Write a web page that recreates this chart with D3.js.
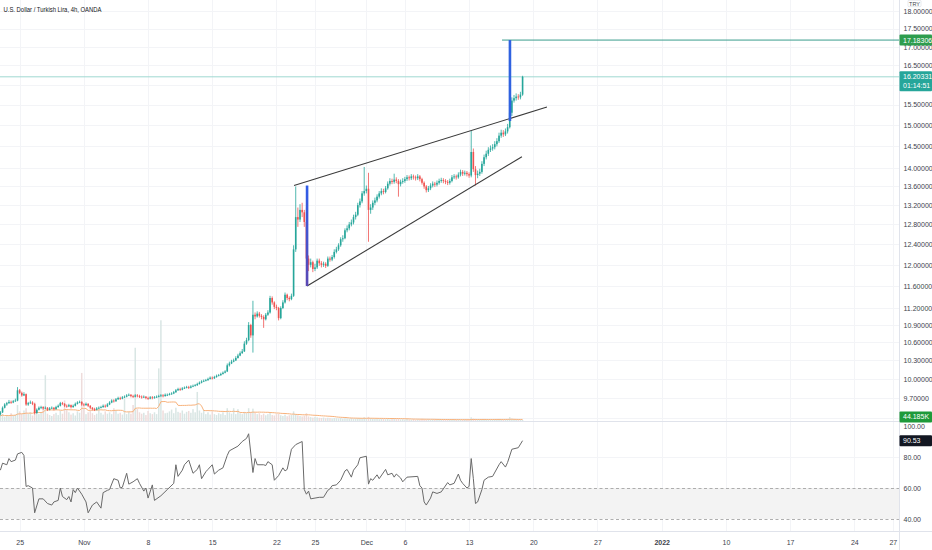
<!DOCTYPE html>
<html lang="en">
<head>
<meta charset="UTF-8">
<title>U.S. Dollar / Turkish Lira, 4h, OANDA</title>
<script src="https://d3js.org/d3.v7.min.js"></script>
<style>
  body, html { margin: 0; padding: 0; background: #fff; overflow: hidden; }
  svg { display: block; font-family: "Liberation Sans", Arial, sans-serif; }
  .axis text { fill: #40434c; font-size: 7px; }
  .axis path, .axis line { display: none; }
</style>
</head>
<body>
<svg width="932" height="550"></svg>
<script>
// ---- data (4h bars, weekends skipped; bar 9 = Oct 25 first bar) ----
const firstOpen = 9.45;
const closes = [
  9.48, 9.55, 9.60, 9.62, 9.64, 9.63,
  9.65, 9.66, 9.82, 9.78, 9.74, 9.76,
  9.60, 9.62, 9.63, 9.61, 9.47, 9.52,
  9.55, 9.56, 9.54, 9.55, 9.52, 9.54,
  9.55, 9.53, 9.56, 9.58, 9.62, 9.61,
  9.58, 9.57, 9.59, 9.56, 9.58, 9.61,
  9.63, 9.64, 9.60, 9.59, 9.61, 9.58,
  9.55, 9.53, 9.52, 9.54, 9.55, 9.56,
  9.58, 9.57, 9.60, 9.63, 9.66, 9.65,
  9.68, 9.70, 9.69, 9.71, 9.72, 9.74,
  9.75, 9.73, 9.72, 9.74, 9.73, 9.72,
  9.71, 9.72, 9.70, 9.69, 9.71, 9.70,
  9.71, 9.72, 9.73, 9.74, 9.73, 9.75,
  9.75, 9.76, 9.77, 9.79, 9.82, 9.84,
  9.83, 9.85, 9.86, 9.87, 9.86, 9.88,
  9.89, 9.90, 9.92, 9.94, 9.96, 9.97,
  9.98, 10.00, 10.02, 10.01, 10.03, 10.05,
  10.06, 10.08, 10.10, 10.12, 10.22, 10.25,
  10.28, 10.30, 10.34, 10.38, 10.42, 10.45,
  10.58, 10.64, 10.90, 10.72, 11.08, 11.05,
  11.10, 11.06, 11.04, 11.00, 11.08, 11.12,
  11.38, 11.30, 11.22, 11.20, 11.02, 11.20,
  11.30, 11.44, 11.38, 11.36, 11.42, 12.30,
  12.95, 12.90, 13.10, 13.05, 12.85, 12.12,
  12.00, 12.05, 11.92, 11.95, 12.08, 12.03,
  12.00, 12.02, 11.98, 12.12, 12.10, 12.15,
  12.25, 12.30, 12.38, 12.50, 12.52, 12.68,
  12.72, 12.80, 12.84, 12.95, 13.00, 13.20,
  13.28, 13.45, 13.50, 13.55, 13.10, 13.15,
  13.25, 13.30, 13.38, 13.45, 13.50, 13.48,
  13.56, 13.66, 13.72, 13.70, 13.75, 13.72,
  13.65, 13.70, 13.72, 13.76, 13.80, 13.78,
  13.82, 13.80, 13.78, 13.82, 13.76, 13.68,
  13.60, 13.52, 13.56, 13.62, 13.66, 13.64,
  13.68, 13.72, 13.74, 13.72, 13.70, 13.68,
  13.72, 13.80, 13.82, 13.80, 13.86, 13.92,
  13.88, 13.90, 13.87, 13.84, 14.37, 13.98,
  13.85, 13.88, 13.92, 14.10, 14.25, 14.33,
  14.42, 14.45, 14.48, 14.55, 14.62, 14.75,
  14.82, 14.78, 14.85, 14.95, 15.30, 15.60,
  15.66, 15.70, 15.68, 15.75, 16.20331
];
const highs = [
  9.50, 9.57, 9.62, 9.64, 9.67, 9.66,
  9.67, 9.69, 9.87, 9.84, 9.80, 9.79,
  9.77, 9.64, 9.66, 9.65, 9.62, 9.54,
  9.57, 9.58, 9.57, 9.57, 9.56, 9.56,
  9.57, 9.56, 9.58, 9.60, 9.64, 9.64,
  9.62, 9.60, 9.61, 9.60, 9.60, 9.63,
  9.65, 9.66, 9.65, 9.62, 9.63, 9.62,
  9.59, 9.56, 9.55, 9.56, 9.57, 9.58,
  9.60, 9.60, 9.62, 9.65, 9.68, 9.68,
  9.70, 9.72, 9.72, 9.73, 9.74, 9.76,
  9.77, 9.76, 9.75, 9.76, 9.76, 9.75,
  9.74, 9.74, 9.73, 9.72, 9.73, 9.73,
  9.73, 9.74, 9.75, 9.76, 9.76, 9.77,
  9.77, 9.78, 9.79, 9.81, 9.84, 9.86,
  9.86, 9.87, 9.88, 9.89, 9.89, 9.90,
  9.91, 9.92, 9.94, 9.96, 9.98, 9.99,
  10.00, 10.02, 10.04, 10.04, 10.05, 10.07,
  10.08, 10.10, 10.12, 10.14, 10.25, 10.28,
  10.31, 10.33, 10.37, 10.41, 10.45, 10.49,
  10.62, 10.68, 10.95, 10.92, 11.33, 11.12,
  11.14, 11.13, 11.09, 11.07, 11.11, 11.16,
  11.42, 11.41, 11.32, 11.26, 11.22, 11.23,
  11.34, 11.48, 11.46, 11.41, 11.46, 12.38,
  13.60, 13.15, 13.22, 13.25, 13.10, 13.15,
  12.18, 12.12, 12.08, 12.02, 12.12, 12.12,
  12.07, 12.06, 12.05, 12.16, 12.16, 12.19,
  12.30, 12.35, 12.42, 12.54, 12.58, 12.72,
  12.78, 12.85, 12.90, 13.00, 13.06, 13.25,
  13.34, 13.50, 14.03, 13.62, 13.90, 13.22,
  13.30, 13.36, 13.43, 13.50, 13.56, 13.55,
  13.61, 13.71, 13.78, 13.77, 13.88, 13.80,
  13.76, 13.75, 13.78, 13.81, 13.85, 13.84,
  13.87, 13.86, 13.84, 13.87, 13.85, 13.79,
  13.71, 13.63, 13.61, 13.67, 13.71, 13.70,
  13.73, 13.77, 13.79, 13.78, 13.76, 13.74,
  13.77, 13.85, 13.87, 13.86, 13.91, 13.97,
  13.96, 13.95, 13.94, 13.91, 14.86, 14.45,
  14.05, 13.95, 13.99, 14.16, 14.31, 14.40,
  14.48, 14.52, 14.55, 14.62, 14.69, 14.82,
  14.89, 14.88, 14.92, 15.03, 17.18306, 15.68,
  15.74, 15.78, 15.76, 15.82, 16.23
];
const lows = [
  9.43, 9.47, 9.54, 9.58, 9.61, 9.61,
  9.62, 9.64, 9.65, 9.76, 9.72, 9.73,
  9.58, 9.58, 9.61, 9.59, 9.45, 9.46,
  9.51, 9.53, 9.52, 9.53, 9.50, 9.51,
  9.53, 9.51, 9.52, 9.55, 9.57, 9.59,
  9.56, 9.55, 9.56, 9.54, 9.55, 9.57,
  9.60, 9.62, 9.58, 9.57, 9.58, 9.56,
  9.53, 9.51, 9.50, 9.51, 9.53, 9.54,
  9.55, 9.55, 9.56, 9.59, 9.62, 9.63,
  9.64, 9.67, 9.67, 9.68, 9.70, 9.71,
  9.73, 9.71, 9.70, 9.71, 9.71, 9.70,
  9.69, 9.70, 9.68, 9.67, 9.68, 9.68,
  9.69, 9.70, 9.71, 9.72, 9.71, 9.72,
  9.73, 9.74, 9.75, 9.76, 9.78, 9.81,
  9.81, 9.82, 9.84, 9.85, 9.84, 9.85,
  9.87, 9.88, 9.89, 9.91, 9.93, 9.95,
  9.96, 9.97, 9.99, 9.99, 10.00, 10.02,
  10.04, 10.05, 10.07, 10.09, 10.11, 10.20,
  10.24, 10.27, 10.29, 10.33, 10.37, 10.41,
  10.44, 10.56, 10.62, 10.68, 10.43, 11.00,
  11.03, 11.03, 11.00, 10.85, 10.98, 11.06,
  11.10, 11.26, 11.18, 11.16, 10.98, 11.00,
  11.18, 11.28, 11.34, 11.32, 11.34, 11.40,
  12.25, 12.75, 12.85, 12.95, 12.75, 11.62,
  11.88, 11.95, 11.86, 11.88, 11.92, 11.98,
  11.95, 11.96, 11.94, 11.96, 12.06, 12.07,
  12.12, 12.22, 12.27, 12.35, 12.45, 12.50,
  12.64, 12.68, 12.76, 12.80, 12.90, 12.97,
  13.15, 13.24, 13.40, 13.45, 12.45, 13.02,
  13.10, 13.20, 13.26, 13.34, 13.41, 13.43,
  13.45, 13.53, 13.62, 13.65, 13.66, 13.67,
  13.38, 13.60, 13.66, 13.68, 13.72, 13.73,
  13.74, 13.75, 13.73, 13.74, 13.71, 13.64,
  13.55, 13.47, 13.48, 13.52, 13.58, 13.59,
  13.60, 13.64, 13.68, 13.67, 13.65, 13.63,
  13.64, 13.69, 13.76, 13.75, 13.77, 13.82,
  13.83, 13.84, 13.82, 13.79, 13.80, 13.92,
  13.62, 13.78, 13.83, 13.88, 14.05, 14.20,
  14.28, 14.37, 14.40, 14.43, 14.50, 14.58,
  14.70, 14.72, 14.74, 14.80, 14.92, 15.22,
  15.55, 15.60, 15.62, 15.63, 15.72
];
// tick volume, thousands
const volumes = [
  220, 300, 180, 260, 200, 340,
  240, 280, 700, 420, 300, 460,
  560, 320, 380, 240, 820, 480,
  300, 380, 640, 2000, 320, 260,
  220, 300, 360, 260, 440, 320,
  900, 500, 380, 280, 340, 240,
  420, 360, 2100, 560, 300, 380,
  460, 340, 260, 320, 520, 360,
  280, 420, 320, 380, 300, 560,
  460, 320, 360, 280, 1000, 300,
  400, 320, 700, 3200, 520, 380,
  320, 360, 260, 440, 340, 300,
  380, 300, 2300, 4400, 460, 340,
  360, 420, 500, 340, 580, 400,
  360, 460, 320, 400, 440, 360,
  520, 380, 1270, 460, 360, 480,
  300, 380, 280, 420, 300, 260,
  340, 300, 380, 260, 560, 380,
  320, 560, 300, 520, 340, 300,
  400, 340, 560, 380, 540, 360,
  300, 340, 260, 320, 250, 300,
  360, 260, 240, 300, 320, 250,
  220, 280, 210, 250, 260, 420,
  300, 250, 220, 200, 230, 340,
  200, 170, 150, 180, 160, 140,
  130, 150, 120, 140, 130, 110,
  130, 120, 110, 130, 100, 120,
  110, 90, 130, 100, 110, 120,
  120, 100, 160, 110, 180, 130,
  110, 90, 100, 80, 110, 90,
  80, 100, 70, 90, 110, 80,
  100, 70, 80, 60, 90, 70,
  60, 80, 55, 70, 60, 80,
  70, 60, 80, 55, 70, 60,
  55, 60, 50, 70, 55, 60,
  50, 55, 60, 50, 70, 55,
  50, 60, 55, 50, 160, 110,
  90, 60, 55, 70, 60, 55,
  50, 60, 55, 70, 60, 80,
  55, 50, 60, 80, 170, 100,
  70, 55, 50, 60, 44.185
];
// RSI: bar index -> value
const rsiIdx = [
  0, 1, 3, 4, 5, 7, 8, 10, 11, 12, 13, 15, 16, 18, 20, 22, 24, 25, 27, 28,
  29, 31, 32, 33, 34, 35, 36, 38, 40, 41, 43, 45, 47, 48, 50, 51, 53, 55, 56, 57,
  59, 60, 62, 64, 65, 67, 68, 69, 71, 72, 75, 78, 81, 82, 83, 85, 86, 88, 90, 92,
  93, 94, 96, 97, 99, 100, 102, 104, 106, 107, 111, 113, 115, 116, 118, 119, 120, 123, 124, 125,
  127, 128, 130, 132, 133, 134, 136, 138, 141, 142, 143, 144, 145, 147, 149, 151, 153, 154, 155, 157,
  159, 161, 162, 164, 165, 167, 168, 171, 172, 173, 174, 176, 177, 180, 181, 183, 184, 185, 187, 188,
  190, 195, 196, 197, 198, 199, 201, 202, 204, 206, 209, 210, 212, 214, 215, 216, 218, 219, 220, 221,
  222, 223, 225, 226, 228, 230, 233, 234, 236, 237, 239, 242, 244
];
const rsiVal = [
  71.5, 76, 75, 79, 77, 78, 82, 83, 81, 61, 61.5, 60, 44, 53, 53, 50, 49, 51, 52, 60,
  54.5, 52.5, 54.5, 51, 59, 57, 60, 56, 51, 44, 49, 51, 47, 57, 58.5, 59, 66, 65, 60, 60.5,
  69.5, 62.5, 64, 66, 63, 58, 60, 53.5, 62, 52, 55, 59, 63, 75, 67.5, 71.5, 75, 78, 69.5, 72,
  75, 66, 70.5, 72, 75, 69, 71.5, 73, 81, 84, 87, 90, 92, 95, 70, 79, 75, 75, 74.5, 77,
  75, 65, 68, 73, 71, 72, 85, 88, 90, 59, 56, 58, 53, 53.5, 54, 54, 58.5, 59.5, 61.5, 62,
  65, 71, 72, 67, 71.5, 75, 79.5, 80.5, 62.5, 66, 65, 68.5, 66, 72, 68.5, 69.5, 67, 69, 66.5, 64,
  67, 67.5, 61.5, 60, 51, 49, 53.5, 57.5, 56.5, 57.5, 63.5, 62, 63, 69, 65, 63, 60, 61, 79, 66,
  50, 51, 59, 65, 67, 67.5, 75, 77, 73.5, 76.5, 85, 86, 90.53
];
// 16.0 and 9.4 sit under the last-price and volume tags, so they are left out
const priceTicks = [18, 17.5, 17, 16.5, 15.5, 15, 14.5, 14, 13.6, 13.2, 12.8, 12.4, 12,
  11.6, 11.2, 10.9, 10.6, 10.3, 10, 9.7];
const gridTicks = [18, 17.5, 17, 16.5, 16, 15.5, 15, 14.5, 14, 13.6, 13.2, 12.8, 12.4, 12,
  11.6, 11.2, 10.9, 10.6, 10.3, 10, 9.7, 9.4];
const rsiTicks = [100, 80, 60, 40];
const rsiBand = [60, 40];
const dateTickIdx = [9, 39, 69, 99, 129, 147, 171, 189, 219, 249, 279, 309, 339, 369, 399, 417];
const dateTickLabels = ["25", "Nov", "8", "15", "22", "25", "Dec", "6", "13", "20", "27", "2022", "10", "17", "24", "27"];
// drawings: [bar index, price]
const upperTrend = [[137.2, 13.62], [255.4, 15.44]];
const lowerTrend = [[143.3, 11.60], [243.7, 14.26]];
const poles = [[143.3, 13.62, 11.60], [238.1, 17.18306, 15.10]];
const spikeLevel = { start: 234.4, price: 17.18306 };
const lastPrice = 16.20331;
const countdown = "01:14:51";
const lastVolume = "44.185K";
const lastRsi = 90.53;

// ---- layout ----
const svg = d3.select("svg");
const axisX = 899.5;
const mainBottom = 421.5, rsiBottom = 531.5;

const x = d3.scaleLinear().domain([0, 417]).range([0.4, 892.8]);
const y = d3.scaleLog().domain([9.7, 18]).range([398, 11]);
const yVol = d3.scaleLinear().domain([0, 4500]).range([421, 318]);
const yRsi = d3.scaleLinear().domain([40, 100]).range([519, 426]);

const up = "#26a69a", down = "#ef5350";
const opens = closes.map((c, i) => i === 0 ? firstOpen : closes[i - 1]);

svg.append("rect").attr("width", 932).attr("height", 550).attr("fill", "#fff");

const defs = svg.append("defs");
defs.append("clipPath").attr("id", "mainClip")
  .append("rect").attr("x", 0).attr("y", 0).attr("width", axisX).attr("height", mainBottom);
defs.append("clipPath").attr("id", "rsiClip")
  .append("rect").attr("x", 0).attr("y", mainBottom).attr("width", axisX).attr("height", rsiBottom - mainBottom);
const grad = defs.append("linearGradient").attr("id", "poleGrad")
  .attr("x1", 0).attr("y1", 0).attr("x2", 0).attr("y2", 1);
grad.append("stop").attr("offset", "0%").attr("stop-color", "#2f5de8");
grad.append("stop").attr("offset", "100%").attr("stop-color", "#5a48b4");

// grid
const grid = svg.append("g").attr("stroke", "#f3f4f7").attr("stroke-width", 1);
grid.selectAll(".vg").data(dateTickIdx).enter().append("line")
  .attr("x1", d => Math.round(x(d)) + 0.5).attr("x2", d => Math.round(x(d)) + 0.5)
  .attr("y1", 0).attr("y2", rsiBottom);
grid.selectAll(".hg").data(gridTicks).enter().append("line")
  .attr("x1", 0).attr("x2", axisX)
  .attr("y1", d => Math.round(y(d)) + 0.5).attr("y2", d => Math.round(y(d)) + 0.5);
grid.selectAll(".rg").data([80]).enter().append("line")
  .attr("x1", 0).attr("x2", axisX)
  .attr("y1", d => Math.round(yRsi(d)) + 0.5).attr("y2", d => Math.round(yRsi(d)) + 0.5);

const main = svg.append("g").attr("clip-path", "url(#mainClip)");

// volume
main.selectAll(".vol").data(volumes).enter().append("rect")
  .attr("x", (d, i) => x(i) - 0.75)
  .attr("width", 1.5)
  .attr("y", d => yVol(d))
  .attr("height", d => yVol(0) - yVol(d))
  .attr("fill", (d, i) => closes[i] >= opens[i] ? "#d9e6e4" : "#eedcdb");

const volMa = volumes.map((v, i) => d3.mean(volumes.slice(Math.max(0, i - 19), i + 1)));
main.append("path").datum(volMa)
  .attr("fill", "none").attr("stroke", "#f7b27c").attr("stroke-width", 1)
  .attr("d", d3.line().x((d, i) => x(i)).y(d => yVol(d)));

// last price line
main.append("line")
  .attr("x1", 0).attr("x2", axisX)
  .attr("y1", y(lastPrice)).attr("y2", y(lastPrice))
  .attr("stroke", "#9fd8d1").attr("stroke-width", 1);

// spike level ray
main.append("line")
  .attr("x1", x(spikeLevel.start)).attr("x2", axisX)
  .attr("y1", y(spikeLevel.price)).attr("y2", y(spikeLevel.price))
  .attr("stroke", "#3a9c8c").attr("stroke-width", 1);

// candles
const candle = main.selectAll(".candle").data(closes).enter().append("g");
candle.append("line")
  .attr("x1", (d, i) => x(i)).attr("x2", (d, i) => x(i))
  .attr("y1", (d, i) => y(highs[i])).attr("y2", (d, i) => y(lows[i]))
  .attr("stroke", (d, i) => d >= opens[i] ? up : down)
  .attr("stroke-width", 0.8);
candle.append("rect")
  .attr("x", (d, i) => x(i) - 0.8)
  .attr("width", 1.6)
  .attr("y", (d, i) => y(Math.max(d, opens[i])))
  .attr("height", (d, i) => Math.max(0.8, y(Math.min(d, opens[i])) - y(Math.max(d, opens[i]))))
  .attr("fill", (d, i) => d >= opens[i] ? up : down);

// trend lines
[upperTrend, lowerTrend].forEach(t => {
  main.append("line")
    .attr("x1", x(t[0][0])).attr("y1", y(t[0][1]))
    .attr("x2", x(t[1][0])).attr("y2", y(t[1][1]))
    .attr("stroke", "#3a3a3a").attr("stroke-width", 1.1);
});

// flag poles
main.selectAll(".pole").data(poles).enter().append("rect")
  .attr("x", d => x(d[0]) - 1.3)
  .attr("width", 2.6)
  .attr("y", d => y(d[1]))
  .attr("height", d => y(d[2]) - y(d[1]))
  .attr("fill", (d, i) => i === 0 ? "url(#poleGrad)" : "#2f62e0");

// RSI pane
const rsiG = svg.append("g").attr("clip-path", "url(#rsiClip)");
rsiG.append("rect")
  .attr("x", 0).attr("width", axisX)
  .attr("y", yRsi(rsiBand[0])).attr("height", yRsi(rsiBand[1]) - yRsi(rsiBand[0]))
  .attr("fill", "#f3f3f3");
rsiG.selectAll(".band").data(rsiBand).enter().append("line")
  .attr("x1", 0).attr("x2", axisX)
  .attr("y1", d => Math.round(yRsi(d)) + 0.5).attr("y2", d => Math.round(yRsi(d)) + 0.5)
  .attr("stroke", "#9b9b9b").attr("stroke-width", 0.8).attr("stroke-dasharray", "3,2.5");
rsiG.append("path").datum(rsiVal)
  .attr("fill", "none").attr("stroke", "#6a6a6a").attr("stroke-width", 1)
  .attr("d", d3.line().x((d, i) => x(rsiIdx[i])).y(d => yRsi(d)));

// separators
const sep = svg.append("g").attr("stroke", "#e0e3eb").attr("stroke-width", 1);
sep.append("line").attr("x1", 0).attr("x2", 932).attr("y1", mainBottom).attr("y2", mainBottom);
sep.append("line").attr("x1", 0).attr("x2", 932).attr("y1", rsiBottom).attr("y2", rsiBottom);
sep.append("line").attr("x1", axisX).attr("x2", axisX).attr("y1", 0).attr("y2", 550);

// axes
svg.append("g").attr("class", "axis")
  .attr("transform", `translate(${axisX},0)`)
  .call(d3.axisRight(y).tickValues(priceTicks).tickFormat(d3.format(".5f")).tickSize(0).tickPadding(4));
svg.append("g").attr("class", "axis")
  .attr("transform", `translate(${axisX},0)`)
  .call(d3.axisRight(yRsi).tickValues(rsiTicks).tickFormat(d3.format(".2f")).tickSize(0).tickPadding(4));
const xAxis = svg.append("g").attr("class", "axis")
  .attr("transform", `translate(0,${rsiBottom})`)
  .call(d3.axisBottom(x).tickValues(dateTickIdx).tickFormat((d, i) => dateTickLabels[i]).tickSize(0).tickPadding(9));
xAxis.selectAll("text").filter(d => d === 309).attr("font-weight", "bold");

// price scale labels
function tag(yPos, h, fill, lines) {
  const g = svg.append("g");
  g.append("rect").attr("x", axisX).attr("y", yPos - h / 2).attr("width", 932 - axisX).attr("height", h)
    .attr("fill", fill).attr("rx", 1);
  lines.forEach((t, k) => {
    g.append("text").attr("x", axisX + 3.5).attr("y", yPos - h / 2 + 8 + k * 9)
      .attr("fill", "#fff").attr("font-size", 7).text(t);
  });
}
tag(y(spikeLevel.price), 11, "#2e9d4e", [d3.format(".5f")(spikeLevel.price)]);
tag(y(lastPrice) + 4.5, 20, "#26a69a", [d3.format(".5f")(lastPrice), countdown]);
tag(yVol(44.185) - 3, 11, "#1e9a3a", [lastVolume]);
tag(yRsi(lastRsi), 11, "#131722", [d3.format(".2f")(lastRsi)]);

// currency badge, tucked above the top price label
const badge = svg.append("g");
badge.append("rect").attr("x", 908).attr("y", 0.3).attr("width", 13).attr("height", 6.4)
  .attr("fill", "#fff").attr("stroke", "#d1d4dc").attr("stroke-width", 0.5).attr("rx", 1);
badge.append("text").attr("x", 914.5).attr("y", 5.6).attr("text-anchor", "middle")
  .attr("font-size", 5.5).attr("fill", "#40434c").text("TRY");

// title
svg.append("text").attr("x", 3.5).attr("y", 11.5)
  .attr("font-size", 7).attr("fill", "#131722")
  .attr("textLength", 98).attr("lengthAdjust", "spacingAndGlyphs")
  .text("U.S. Dollar / Turkish Lira, 4h, OANDA");
</script>
</body>
</html>
